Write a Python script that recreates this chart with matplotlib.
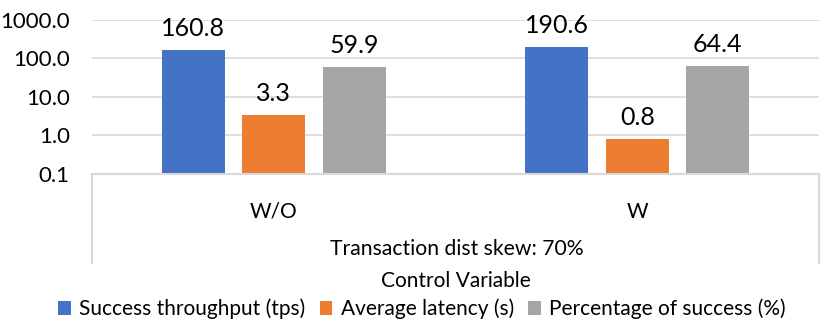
import matplotlib.pyplot as plt
import numpy as np

plt.rcParams['font.family'] = ['Lato', 'DejaVu Sans']

groups = ['W/O', 'W']
series = ['Success throughput (tps)', 'Average latency (s)', 'Percentage of success (%)']
throughput = [160.8, 190.6]
latency = [3.3, 0.8]
success_pct = [59.9, 64.4]
colors = ['#4472C4', '#ED7D31', '#A5A5A5']
yticks = [0.1, 1, 10, 100, 1000]
outer_label = 'Transaction dist skew: 70%'
xtitle = 'Control Variable'

W, H = 830, 326
fig = plt.figure(figsize=(W / 100, H / 100), dpi=100)
ax = fig.add_axes([92 / W, 1 - 174 / H, (819 - 92) / W, (174 - 19.5) / H])

x = np.arange(len(groups))
offsets = [-0.2215, 0, 0.2215]
bw = 0.173
for vals, off, c, name in zip([throughput, latency, success_pct], offsets, colors, series):
    bars = ax.bar(x + off, vals, bw, color=c, label=name, zorder=2)
    for b, v in zip(bars, vals):
        ax.annotate('%.1f' % v, (b.get_x() + b.get_width() / 2, v),
                    xytext=(0, 10), textcoords='offset points',
                    ha='center', va='baseline', fontsize=18, color='#000000')

ax.set_yscale('log')
ax.set_ylim(0.1, 1000)
ax.set_xlim(-0.5, 1.5)
ax.set_yticks(yticks)
ax.set_yticklabels(['%.1f' % t for t in yticks])
ax.yaxis.set_minor_locator(plt.NullLocator())
ax.tick_params(axis='y', length=0, labelsize=16, pad=16, colors='#000000')
ax.grid(axis='y', color='#D9D9D9', lw=1.2, zorder=0)
ax.set_axisbelow(True)

ax.set_xticks(x)
ax.set_xticklabels(groups)
ax.tick_params(axis='x', length=0, labelsize=15, pad=20)

for s in ['top', 'right', 'left']:
    ax.spines[s].set_visible(False)
ax.spines['bottom'].set_color('#D9D9D9')
ax.spines['bottom'].set_linewidth(1.5)

# category box side lines
box_h = (263 - 174) / (174 - 19.5)
for xa in [0, 1]:
    ax.plot([xa, xa], [0, -box_h], transform=ax.transAxes, color='#D9D9D9',
            lw=1.5, clip_on=False)

fig.text(457 / W, 1 - 249 / H, outer_label, ha='center', va='center', fontsize=15.2)
fig.text(456 / W, 1 - 281 / H, xtitle, ha='center', va='center', fontsize=15)

fig.legend(loc='center', bbox_to_anchor=(422 / W, 1 - 309 / H), ncol=3, frameon=False,
           fontsize=15, handlelength=0.6, handleheight=0.6, handletextpad=0.4,
           columnspacing=0.7, borderpad=0)

fig.savefig('out.png', dpi=100)
